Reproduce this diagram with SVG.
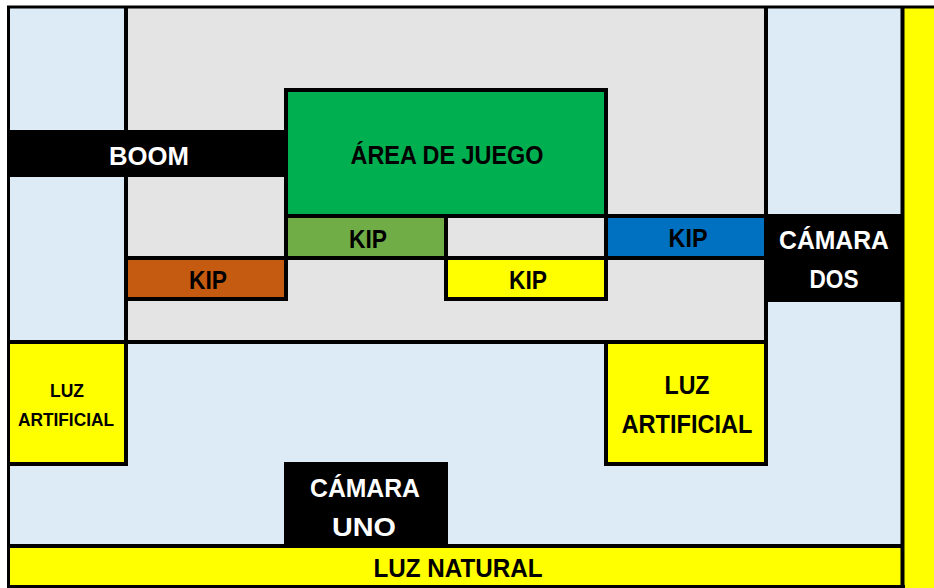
<svg xmlns="http://www.w3.org/2000/svg" width="934" height="588" viewBox="0 0 934 588">
<style>
  .t{font-family:"Liberation Sans",Arial,sans-serif;font-weight:bold;font-size:26px;text-anchor:middle;fill:#000}
  .w{fill:#fff}
  .s{font-size:19px}
  .ln{stroke:#000;stroke-width:4;fill:none}
  .fr{stroke:#000;stroke-width:3;fill:none}
</style>
<rect x="0" y="0" width="934" height="588" fill="#fff"/>
<g id="fondo">
  <rect x="8" y="7" width="895" height="580" fill="#DDEBF7"/>
  <rect x="126" y="7" width="640" height="335" fill="#E4E4E4"/>
</g>
<g id="luz-lateral">
  <rect x="903" y="7" width="31" height="581" fill="#FFFF00"/>
</g>
<g id="area-de-juego">
  <rect x="286" y="90" width="320" height="126" fill="#00B050"/>
  <text class="t" x="447" y="164" textLength="193" lengthAdjust="spacingAndGlyphs">ÁREA DE JUEGO</text>
</g>
<g id="kip-verde">
  <rect x="286" y="216" width="160" height="42" fill="#70AD47"/>
  <text class="t" x="368" y="248" textLength="38" lengthAdjust="spacingAndGlyphs">KIP</text>
</g>
<g id="kip-azul">
  <rect x="606" y="216" width="160" height="42" fill="#0070C0"/>
  <text class="t" x="688" y="247" textLength="39" lengthAdjust="spacingAndGlyphs">KIP</text>
</g>
<g id="kip-naranja">
  <rect x="126" y="258" width="160" height="41" fill="#C55A11"/>
  <text class="t" x="208" y="289" textLength="38" lengthAdjust="spacingAndGlyphs">KIP</text>
</g>
<g id="kip-amarillo">
  <rect x="446" y="258" width="160" height="41" fill="#FFFF00"/>
  <text class="t" x="528" y="289" textLength="38" lengthAdjust="spacingAndGlyphs">KIP</text>
</g>
<g id="luz-artificial-izq">
  <rect x="8" y="342" width="118" height="122" fill="#FFFF00"/>
</g>
<g id="luz-artificial-der">
  <rect x="606" y="342" width="160" height="122" fill="#FFFF00"/>
</g>
<g id="luz-natural">
  <rect x="8" y="546" width="895" height="40" fill="#FFFF00"/>
</g>
<g id="lines">
  <line class="ln" x1="126" y1="7" x2="126" y2="466"/>
  <line class="ln" x1="766" y1="7" x2="766" y2="466"/>
  <line class="ln" x1="8" y1="342" x2="768" y2="342"/>
  <line class="ln" x1="8" y1="464" x2="128" y2="464"/>
  <line class="ln" x1="604" y1="464" x2="768" y2="464"/>
  <line class="ln" x1="606" y1="342" x2="606" y2="466"/>
  <line class="ln" x1="286" y1="88" x2="286" y2="301"/>
  <line class="ln" x1="606" y1="88" x2="606" y2="301"/>
  <line class="ln" x1="284" y1="90" x2="608" y2="90"/>
  <line class="ln" x1="284" y1="216" x2="766" y2="216"/>
  <line class="ln" x1="126" y1="258" x2="766" y2="258"/>
  <line class="ln" x1="124" y1="299" x2="288" y2="299"/>
  <line class="ln" x1="444" y1="299" x2="608" y2="299"/>
  <line class="ln" x1="446" y1="216" x2="446" y2="301"/>
  <line class="ln" x1="8" y1="546" x2="903" y2="546"/>
  <line class="ln" x1="902.5" y1="7" x2="902.5" y2="588"/>
  <line class="fr" x1="7" y1="7" x2="934" y2="7"/>
  <line class="fr" x1="8.5" y1="6" x2="8.5" y2="588"/>
  <line class="fr" x1="7" y1="586.5" x2="905" y2="586.5"/>
</g>
<g id="boom">
  <rect x="8" y="130" width="278" height="47" fill="#000"/>
  <text class="t w" x="149" y="165" textLength="80" lengthAdjust="spacingAndGlyphs">BOOM</text>
</g>
<g id="camara-dos">
  <rect x="764" y="214" width="139" height="88" fill="#000"/>
  <text class="t w" x="834" y="249" textLength="110" lengthAdjust="spacingAndGlyphs">CÁMARA</text>
  <text class="t w" x="834" y="288" textLength="49" lengthAdjust="spacingAndGlyphs">DOS</text>
</g>
<g id="camara-uno">
  <rect x="284" y="462" width="164" height="84" fill="#000"/>
  <text class="t w" x="365" y="497" textLength="110" lengthAdjust="spacingAndGlyphs">CÁMARA</text>
  <text class="t w" x="364" y="536" textLength="64" lengthAdjust="spacingAndGlyphs">UNO</text>
</g>
<g id="textos-luz">
  <text class="t s" x="67" y="397" textLength="34" lengthAdjust="spacingAndGlyphs">LUZ</text>
  <text class="t s" x="66" y="426" textLength="96" lengthAdjust="spacingAndGlyphs">ARTIFICIAL</text>
  <text class="t" x="687" y="394" textLength="45" lengthAdjust="spacingAndGlyphs">LUZ</text>
  <text class="t" x="687" y="433" textLength="131" lengthAdjust="spacingAndGlyphs">ARTIFICIAL</text>
  <text class="t" x="458" y="577" textLength="169" lengthAdjust="spacingAndGlyphs">LUZ NATURAL</text>
</g>
</svg>
